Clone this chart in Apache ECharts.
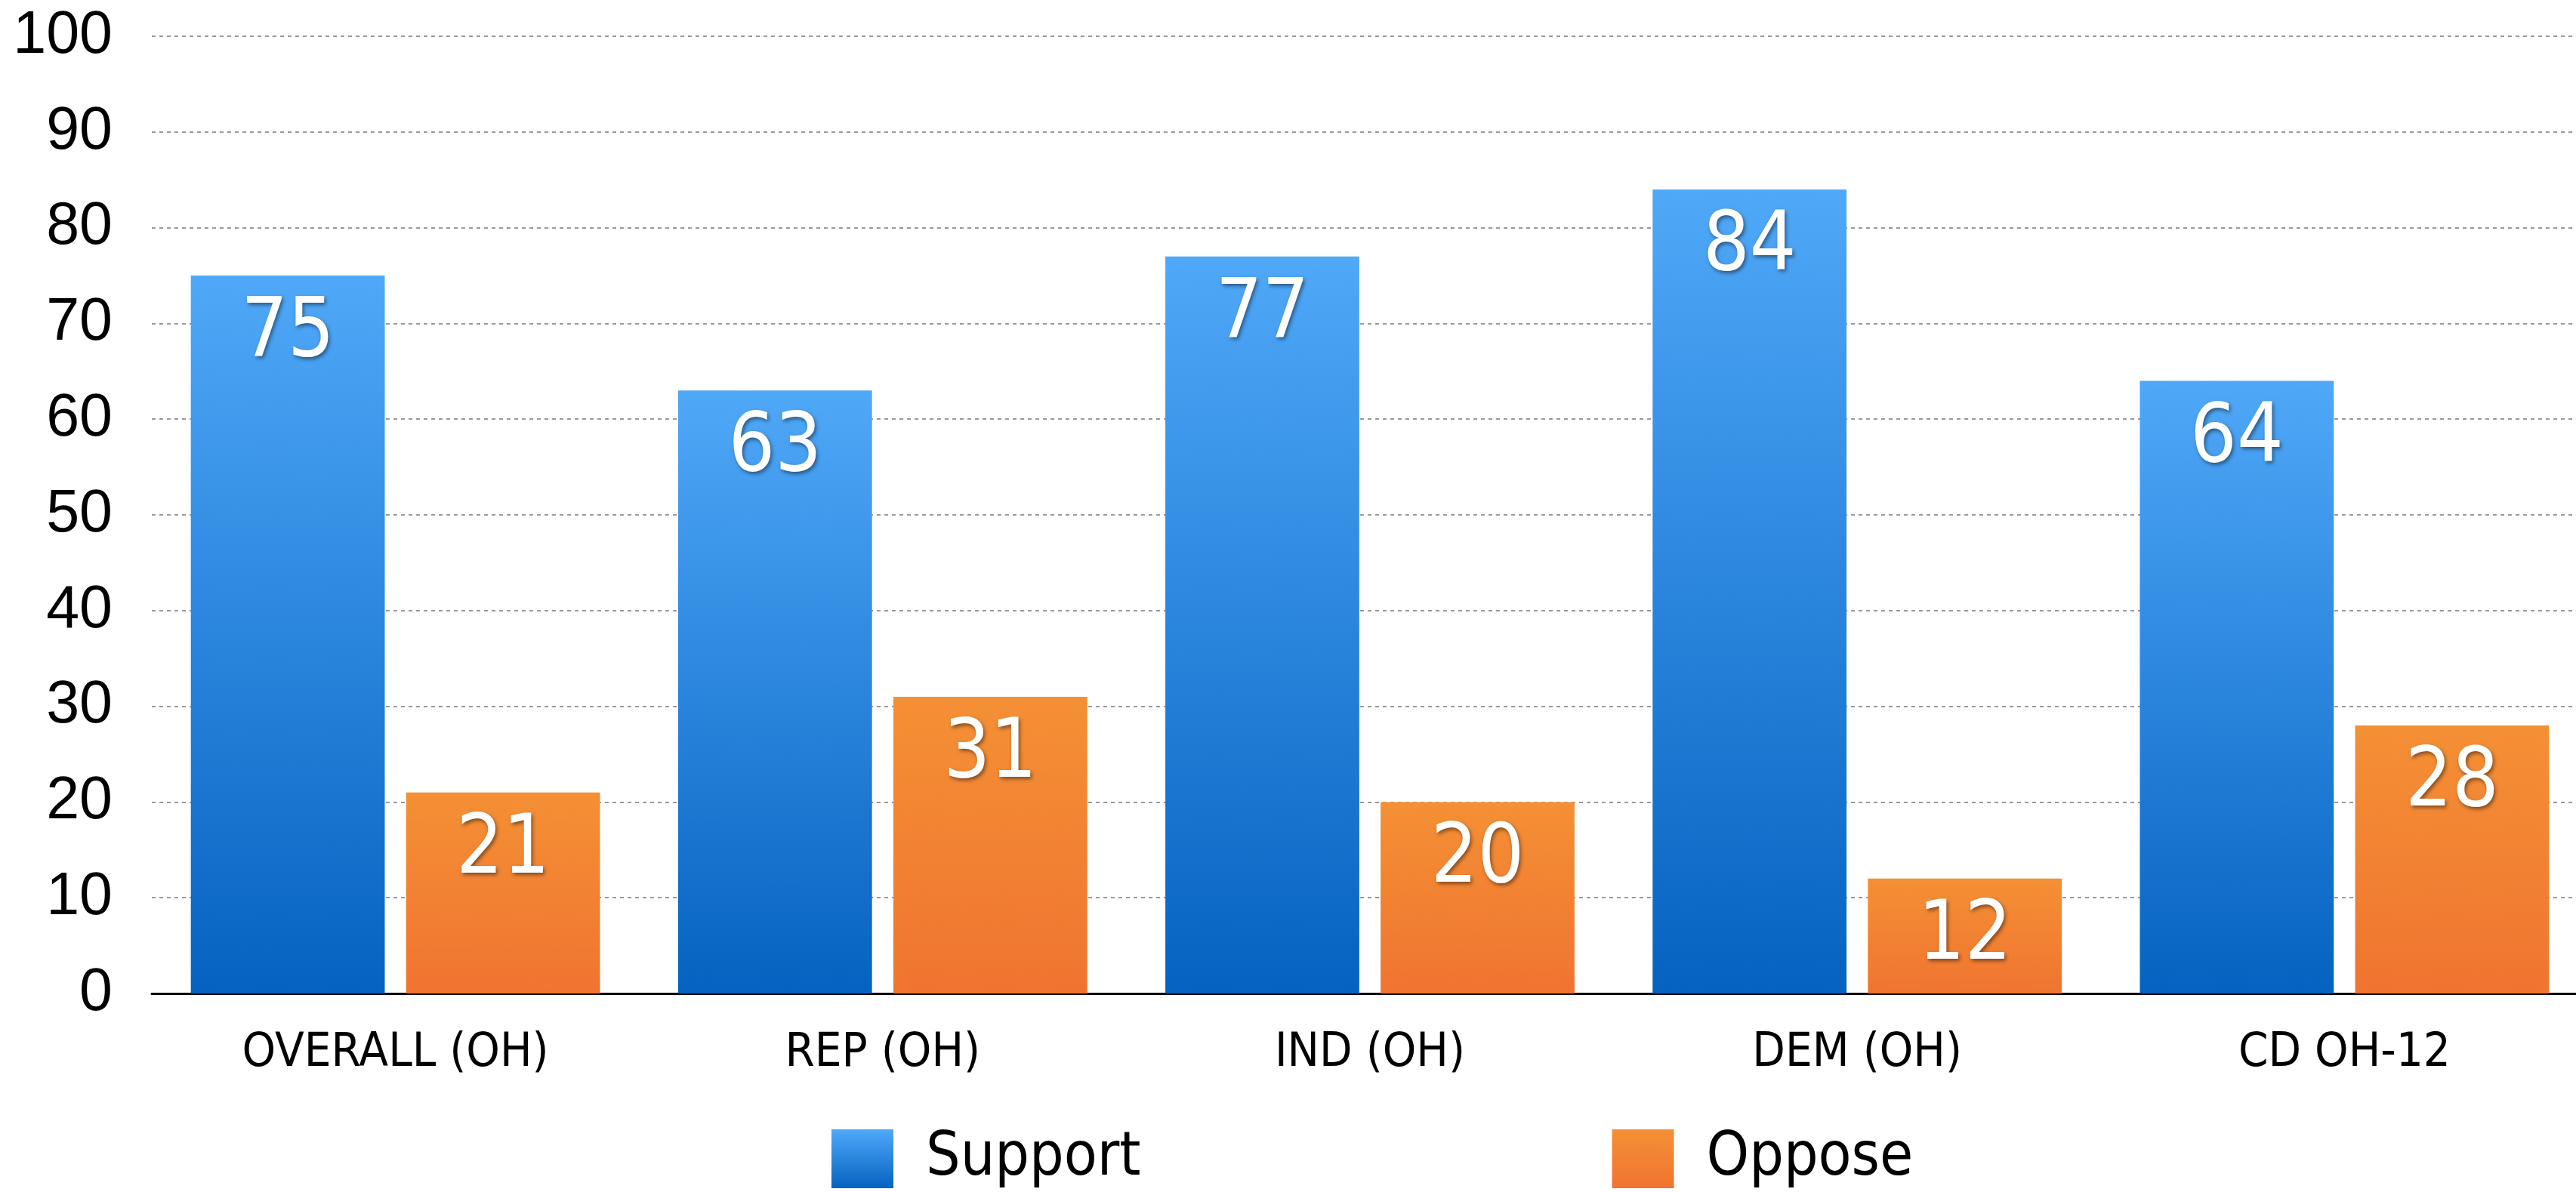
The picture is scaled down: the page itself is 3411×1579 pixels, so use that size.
<!DOCTYPE html>
<html>
<head>
<meta charset="utf-8">
<script src="https://cdn.jsdelivr.net/npm/echarts@6/dist/echarts.min.js"></script>
<style>
html,body{margin:0;padding:0;background:#fff;}
#chart{width:3411px;height:1579px;}
</style>
</head>
<body>
<div id="chart"></div>
<script>
const categories = ['OVERALL (OH)', 'REP (OH)', 'IND (OH)', 'DEM (OH)', 'CD OH-12'];
const supportValues = [75, 63, 77, 84, 64];
const opposeValues = [21, 31, 20, 12, 28];
const yTicks = { min: 0, max: 100, interval: 10 };

const condFont = '"DejaVu Sans Condensed", "DejaVu Sans", sans-serif';

function grad(top, bottom) {
  return new echarts.graphic.LinearGradient(0, 0, 0, 1, [
    { offset: 0, color: top },
    { offset: 1, color: bottom }
  ]);
}

const barLabel = {
  show: true,
  position: 'insideTop',
  distance: 24,
  color: '#fff',
  fontFamily: condFont,
  fontSize: 108,
  textShadowColor: 'rgba(0,0,0,0.45)',
  textShadowBlur: 5,
  textShadowOffsetX: 2,
  textShadowOffsetY: 3
};

const chart = echarts.init(document.getElementById('chart'), null, { renderer: 'canvas' });
chart.setOption({
  animation: false,
  backgroundColor: '#fff',
  grid: { left: 201, right: -16, top: 48, bottom: 263, containLabel: false, outerBoundsMode: 'none' },
  legend: {
    left: 1096,
    top: 1490,
    itemWidth: 82,
    itemHeight: 78,
    itemGap: 624,
    icon: 'rect',
    textStyle: { fontFamily: condFont, fontSize: 80, color: '#000', padding: [0, 0, 0, 38] },
    data: ['Support', 'Oppose']
  },
  xAxis: {
    type: 'category',
    data: categories,
    axisLine: { show: true, lineStyle: { color: '#000', width: 3 } },
    axisTick: { show: false },
    axisLabel: { color: '#000', fontFamily: condFont, fontSize: 63, margin: 48 }
  },
  yAxis: {
    type: 'value',
    min: yTicks.min,
    max: yTicks.max,
    interval: yTicks.interval,
    axisLine: { show: false },
    axisTick: { show: false },
    axisLabel: { color: '#000', fontFamily: '"Liberation Sans", Arial, sans-serif', fontSize: 79, margin: 52 },
    splitLine: { lineStyle: { color: '#999', width: 2, type: [5, 5] } }
  },
  series: [
    {
      name: 'Support',
      type: 'bar',
      data: supportValues,
      barWidth: '39.8%',
      barGap: '11%',
      itemStyle: { color: grad('#50A8F8', '#0562C0') },
      label: barLabel
    },
    {
      name: 'Oppose',
      type: 'bar',
      data: opposeValues,
      barWidth: '39.8%',
      itemStyle: { color: grad('#F49035', '#F07430') },
      label: barLabel
    }
  ]
});
</script>
</body>
</html>
